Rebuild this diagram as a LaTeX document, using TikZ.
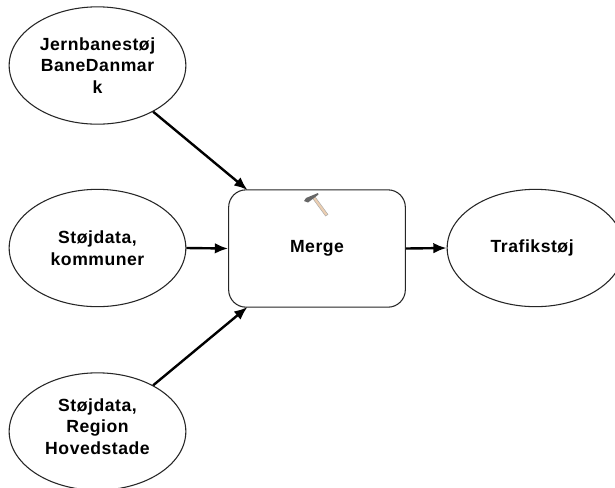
\documentclass[tikz,border=0pt]{standalone}
\usepackage{fontspec}
\setmainfont[LetterSpace=3]{Liberation Sans}
\usetikzlibrary{shapes.geometric,arrows.meta}
\tikzset{
 px/.style={x=0.75pt,y=-0.75pt},
 lbl/.style={inner sep=0pt,align=center,font=\fontsize{13.2}{16.1}\selectfont\bfseries},
 data/.style={lbl,draw=black!85,line width=0.8pt,ellipse,minimum width=132.5pt,minimum height=88pt},
 tool/.style={lbl,draw=black!85,line width=0.8pt,rounded corners=13pt,minimum width=132.5pt,minimum height=88pt},
 conn/.style={line width=1.8pt,-{Latex[length=10pt,width=8pt]}}
}
\begin{document}
\begin{tikzpicture}[px]
\useasboundingbox (0,0) rectangle (615,487);
\clip (0,0) rectangle (615,487);
\fill[white] (0,0) rectangle (615,487);
\node[data] (a) at (97.5,65.5) {Jernbanestøj\\BaneDanmar\\k};
\node[data] (b) at (97.5,248) {Støjdata,\\kommuner};
\node[data] (c) at (97.5,431.5) {};
\node[lbl] (ct) at (97.5,426.5) {Støjdata,\\Region\\Hovedstade};
\node[tool] (m) at (317,248.5) {\raisebox{-1.5pt}{Merge}};
\node[data] (t) at (535.5,248) {\hspace*{-5pt}\raisebox{-1.5pt}{Trafikstøj}};
\coordinate (mtop) at (247.5,190);
\coordinate (mbot) at (247.5,307);
\draw[conn] (a) -- (mtop);
\draw[conn] (b.east) -- (m.west);
\draw[conn] (c) -- (mbot);
\draw[conn] (m.east) -- (t.west);
% hammer icon
\fill[black!25!orange!30!white,draw=black!35,line width=0.3pt] (312,197.5) -- (314.5,196) -- (328,214.5) -- (325.5,216) -- cycle;
\fill[black!60] (304,201) -- (306,198) -- (312,195.5) -- (318,193) -- (318.5,194.5) -- (314,198) -- (308,202.5) -- cycle;
\end{tikzpicture}
\end{document}
